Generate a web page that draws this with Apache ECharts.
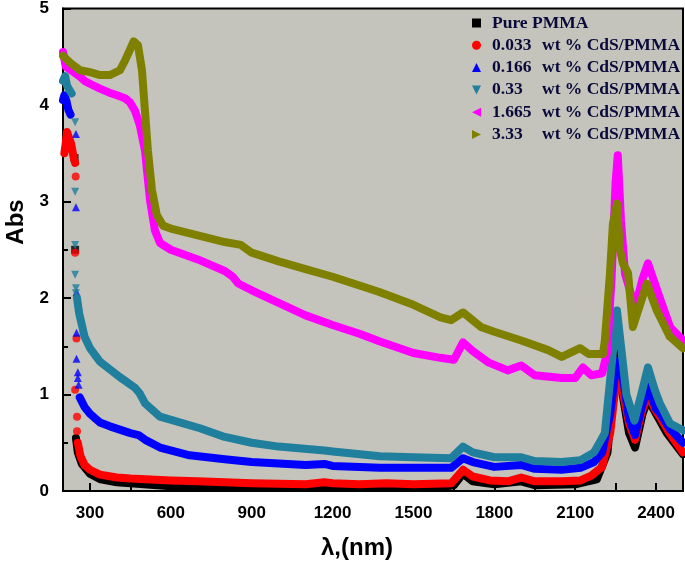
<!DOCTYPE html>
<html>
<head>
<meta charset="utf-8">
<script src="https://cdn.jsdelivr.net/npm/echarts@6/dist/echarts.min.js"></script>
<style>html,body{margin:0;padding:0;background:#fff}#c{width:685px;height:566px}</style>
</head>
<body>
<div id="c"></div>
<script>
// ---- data ([wavelength nm, Abs]) ----
const seriesNames = ['Pure PMMA', '0.033 wt % CdS/PMMA', '0.166 wt % CdS/PMMA', '0.33 wt % CdS/PMMA', '1.665 wt % CdS/PMMA', '3.33 wt % CdS/PMMA'];

const pmmaDots = [[243,3.45],[245,2.5]];
const pmmaCurve = [[248,0.55],[255,0.4],[270,0.28],[300,0.18],[340,0.12],[400,0.09],[500,0.07],[600,0.05],[800,0.04],[1000,0.04],[1200,0.05],[1400,0.05],[1600,0.04],[1650,0.06],[1684,0.18],[1720,0.1],[1800,0.07],[1900,0.1],[1950,0.06],[2100,0.07],[2180,0.12],[2220,0.4],[2245,1.2],[2258,1.55],[2270,1.1],[2300,0.6],[2322,0.45],[2350,0.8],[2370,0.95],[2400,0.8],[2440,0.6],[2500,0.38]];

const cds033Cluster = [[205,3.5],[210,3.6],[215,3.72],[222,3.7],[230,3.6],[240,3.45],[245,3.4]];
const cds033Dots = [[247,3.26],[245,2.47],[250,1.58],[245,1.05],[252,0.77],[252,0.62]];
const cds033Curve = [[255,0.5],[265,0.36],[280,0.27],[300,0.22],[337,0.17],[400,0.14],[450,0.13],[600,0.11],[700,0.10],[900,0.08],[1100,0.07],[1170,0.09],[1200,0.08],[1300,0.07],[1400,0.08],[1500,0.07],[1640,0.08],[1684,0.22],[1720,0.15],[1784,0.11],[1850,0.10],[1900,0.14],[1950,0.1],[2050,0.1],[2120,0.11],[2160,0.16],[2200,0.25],[2230,0.6],[2250,1.1],[2262,1.22],[2275,1.05],[2300,0.7],[2322,0.53],[2345,0.8],[2370,1.01],[2395,0.85],[2414,0.77],[2450,0.6],[2500,0.40]];

const cds166Cluster = [[200,4.05],[205,4.1],[212,4.05],[220,3.95],[228,3.9]];
const cds166Dots = [[248,3.7],[248,2.94],[250,2.06],[250,1.64],[250,1.37],[255,1.23],[255,1.17],[258,1.1]];
const cds166Curve = [[262,0.97],[280,0.87],[300,0.8],[337,0.71],[374,0.67],[450,0.6],[480,0.58],[505,0.53],[560,0.45],[670,0.37],[800,0.33],[900,0.30],[1100,0.27],[1170,0.28],[1200,0.26],[1376,0.24],[1500,0.24],[1640,0.24],[1684,0.34],[1720,0.3],[1800,0.25],[1900,0.27],[1950,0.23],[2050,0.22],[2120,0.24],[2170,0.3],[2200,0.4],[2230,0.8],[2250,1.25],[2262,1.35],[2275,1.2],[2300,0.75],[2322,0.58],[2345,0.85],[2370,1.08],[2400,0.85],[2414,0.81],[2450,0.65],[2500,0.5]];

const cds33Cluster = [[200,4.25],[208,4.3],[215,4.2],[225,4.15],[232,4.12]];
const cds33Dots = [[245,3.82],[245,3.1],[245,2.55],[245,2.24],[248,2.1],[248,2.05]];
const cds33Curve = [[252,2.0],[260,1.84],[280,1.6],[300,1.48],[337,1.34],[411,1.18],[467,1.07],[485,1.01],[504,0.91],[560,0.77],[708,0.65],[800,0.56],[900,0.5],[1000,0.46],[1170,0.42],[1200,0.41],[1376,0.36],[1500,0.35],[1640,0.34],[1684,0.46],[1720,0.4],[1800,0.35],[1900,0.35],[1950,0.31],[2050,0.3],[2120,0.32],[2170,0.4],[2210,0.6],[2235,1.3],[2255,1.87],[2270,1.5],[2290,1.0],[2320,0.73],[2345,1.0],[2370,1.28],[2395,1.05],[2414,0.91],[2452,0.7],[2500,0.63]];

const cds1665Curve = [[200,4.55],[210,4.4],[230,4.36],[260,4.3],[280,4.25],[300,4.22],[337,4.17],[370,4.13],[400,4.1],[430,4.07],[448,4.03],[467,3.94],[485,3.79],[504,3.53],[523,3.01],[541,2.7],[560,2.57],[600,2.5],[700,2.4],[800,2.28],[830,2.22],[850,2.15],[900,2.08],[1000,1.95],[1100,1.82],[1200,1.72],[1300,1.63],[1376,1.55],[1500,1.43],[1600,1.38],[1650,1.36],[1684,1.54],[1720,1.45],[1780,1.33],[1850,1.25],[1900,1.30],[1950,1.2],[2050,1.17],[2100,1.17],[2129,1.28],[2160,1.2],[2200,1.22],[2218,1.43],[2235,2.2],[2250,3.2],[2258,3.48],[2270,2.8],[2285,2.25],[2322,1.9],[2350,2.2],[2370,2.36],[2414,2.0],[2452,1.7],[2500,1.56]];

const cds333Curve = [[200,4.51],[226,4.44],[263,4.36],[300,4.34],[337,4.31],[374,4.31],[411,4.36],[430,4.46],[448,4.57],[462,4.66],[478,4.62],[493,4.36],[504,3.94],[515,3.53],[530,3.12],[548,2.86],[571,2.75],[600,2.72],[700,2.65],[800,2.58],[860,2.55],[900,2.47],[1000,2.38],[1100,2.3],[1200,2.22],[1300,2.13],[1376,2.06],[1500,1.93],[1600,1.8],[1640,1.77],[1684,1.85],[1750,1.7],[1800,1.65],[1900,1.56],[2000,1.46],[2050,1.39],[2118,1.48],[2150,1.42],[2203,1.42],[2210,1.56],[2229,2.25],[2240,2.77],[2255,2.98],[2266,2.5],[2277,2.36],[2296,2.26],[2314,1.7],[2366,2.15],[2403,1.87],[2451,1.6],[2500,1.48]];

const xTickValues = [300,450,600,750,900,1050,1200,1350,1500,1650,1800,1950,2100,2250,2400];
const xLabelValues = [300,600,900,1200,1500,1800,2100,2400];

// ---- styling ----
const colors = ['#000000','#ff0000','#0000ff','#1f7f9c','#ff00ff','#808000'];
const symbols = ['rect','circle','triangle','triangle','triangle','triangle'];
const rotations = [0,0,0,180,90,-90];
const legendIcons = ['rect','circle','path://M5,0 L10,10 L0,10 Z','path://M0,0 L10,0 L5,10 Z','path://M10,0 L10,10 L0,5 Z','path://M0,0 L0,10 L10,5 Z'];
const LW = 8;

function lineSeries(i, data) {
  return {
    name: seriesNames[i], type: 'line', data: data,
    symbol: symbols[i], symbolRotate: rotations[i], symbolSize: 8, showSymbol: false,
    lineStyle: { color: colors[i], width: LW, join: 'round', cap: 'round' },
    itemStyle: { color: colors[i] }, z: 2 + i, animation: false, smooth: false
  };
}
function dotSeries(i, data) {
  return {
    name: seriesNames[i], type: 'scatter', data: data,
    symbol: symbols[i], symbolRotate: rotations[i], symbolSize: 8,
    itemStyle: { color: colors[i] }, z: 2 + i, animation: false
  };
}

const series = [
  lineSeries(0, pmmaCurve), dotSeries(0, pmmaDots),
  lineSeries(1, cds033Curve), lineSeries(1, cds033Cluster), dotSeries(1, cds033Dots),
  lineSeries(2, cds166Curve), lineSeries(2, cds166Cluster), dotSeries(2, cds166Dots),
  lineSeries(3, cds33Curve), lineSeries(3, cds33Cluster), dotSeries(3, cds33Dots),
  lineSeries(4, cds1665Curve),
  lineSeries(5, cds333Curve)
];

const chart = echarts.init(document.getElementById('c'), null, { renderer: 'canvas' });
const tickFont = { fontFamily: 'Liberation Sans, Arial, sans-serif', fontWeight: 'bold', fontSize: 17, color: '#000' };
const serif = 'Liberation Serif, Times New Roman, serif';

chart.setOption({
  backgroundColor: '#ffffff',
  animation: false,
  grid: { left: 63, right: 2, top: 8, bottom: 75, show: true, backgroundColor: '#c4c4bc', borderColor: '#000', borderWidth: 2 },
  xAxis: {
    type: 'value', min: 200, max: 2500,
    axisLine: { show: true, onZero: false, lineStyle: { color: '#000', width: 2 } },
    axisTick: { show: true, inside: true, length: 8, customValues: xTickValues, lineStyle: { color: '#000', width: 2 } },
    axisLabel: Object.assign({ customValues: xLabelValues, margin: 14, formatter: function (v) { return String(v); } }, tickFont),
    splitLine: { show: false }
  },
  yAxis: {
    type: 'value', min: 0, max: 5, interval: 1,
    axisLine: { show: true, lineStyle: { color: '#000', width: 2 } },
    axisTick: { show: true, inside: true, length: 8, lineStyle: { color: '#000', width: 2 } },
    minorTick: { show: true, splitNumber: 2, length: 5, lineStyle: { color: '#000', width: 2 } },
    axisLabel: Object.assign({ margin: 14 }, tickFont),
    splitLine: { show: false }
  },
  legend: {
    orient: 'vertical', left: 467, top: 9, itemGap: 4.3, itemWidth: 9, itemHeight: 9,
    data: seriesNames.map(function (n, i) { return { name: n, icon: legendIcons[i], itemStyle: { color: colors[i] } }; }),
    formatter: function (name) {
      const k = name.indexOf(' wt');
      if (k < 0) return '{n|' + name + '}';
      return '{a|' + name.slice(0, k) + '}{n|' + name.slice(k + 1) + '}';
    },
    textStyle: {
      padding: [0, 0, 0, 6],
      rich: {
        a: { fontFamily: serif, fontWeight: 'bold', fontSize: 17.5, color: '#0a0a3a', width: 50 },
        n: { fontFamily: serif, fontWeight: 'bold', fontSize: 17.5, color: '#0a0a3a' }
      }
    }
  },
  graphic: [
    { type: 'text', x: 16, y: 222, rotation: Math.PI / 2, style: { text: 'Abs', font: 'bold 24px Liberation Sans, Arial, sans-serif', fill: '#000', align: 'center', verticalAlign: 'middle' } },
    { type: 'text', x: 357, y: 548, style: { text: 'λ,(nm)', font: 'bold 24px Liberation Sans, Arial, sans-serif', fill: '#000', align: 'center', verticalAlign: 'middle' } }
  ],
  series: series
});
</script>
</body>
</html>
